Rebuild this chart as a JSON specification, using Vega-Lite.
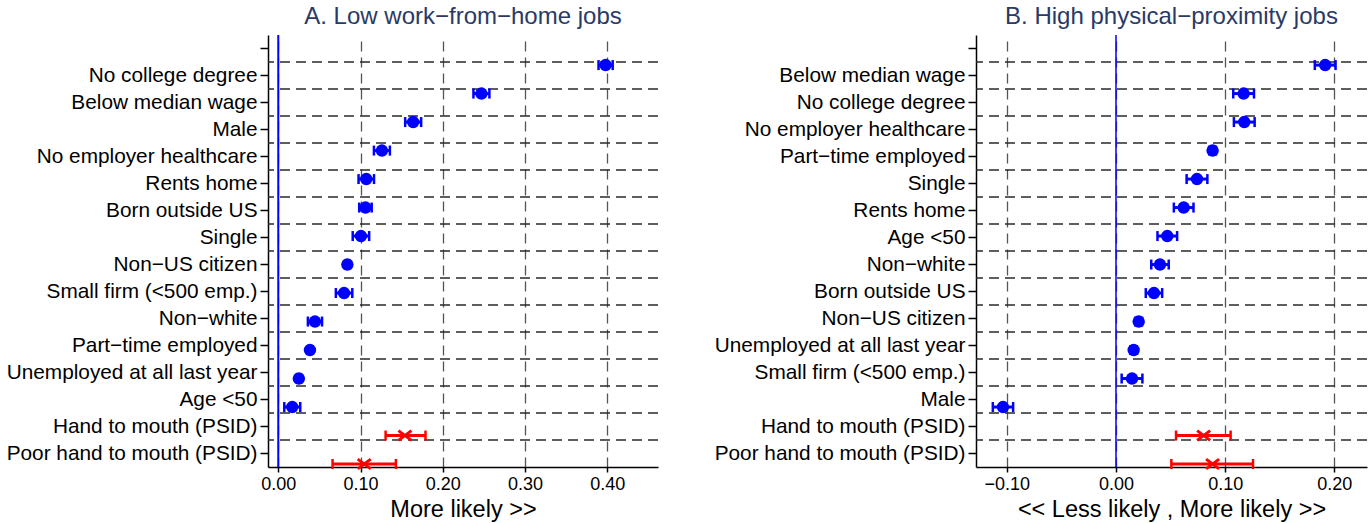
{
  "$schema": "https://vega.github.io/schema/vega-lite/v6.json",
  "padding": {"left": 6, "top": 5, "right": 5, "bottom": 5},
  "spacing": 55,
  "config": {
    "font": "Liberation Sans",
    "view": {"stroke": null},
    "axis": {"labelColor": "#000", "tickColor": "#000", "domainColor": "#000", "domainWidth": 1.5, "tickWidth": 1.5, "titleFontWeight": "normal", "titleColor": "#000", "labelFont": "Liberation Sans", "titleFont": "Liberation Sans"},
    "axisX": {"grid": true, "gridDash": [10, 6], "gridColor": "#555", "gridWidth": 1.3, "tickSize": 5, "labelFontSize": 18, "labelPadding": 3, "titleFontSize": 23.5, "titlePadding": 4, "format": ".2f", "labelFlush": false},
    "axisY": {"grid": false, "tickSize": 8, "labelFontSize": 20.8, "labelPadding": 3, "labelLimit": 400},
    "title": {"fontSize": 24, "fontWeight": "normal", "color": "#2a3a66", "anchor": "middle", "offset": 5, "font": "Liberation Sans"}
  },
  "datasets": {
    "A": [
      {"cat": "No college degree", "est": 0.398, "lo": 0.3894, "hi": 0.4066, "g": "b"},
      {"cat": "Below median wage", "est": 0.247, "lo": 0.2373, "hi": 0.2567, "g": "b"},
      {"cat": "Male", "est": 0.164, "lo": 0.1543, "hi": 0.1737, "g": "b"},
      {"cat": "No employer healthcare", "est": 0.126, "lo": 0.1163, "hi": 0.1357, "g": "b"},
      {"cat": "Rents home", "est": 0.107, "lo": 0.0976, "hi": 0.1164, "g": "b"},
      {"cat": "Born outside US", "est": 0.106, "lo": 0.0984, "hi": 0.1136, "g": "b"},
      {"cat": "Single", "est": 0.1005, "lo": 0.0905, "hi": 0.1105, "g": "b"},
      {"cat": "Non−US citizen", "est": 0.084, "lo": 0.081, "hi": 0.087, "g": "b"},
      {"cat": "Small firm (<500 emp.)", "est": 0.08, "lo": 0.07, "hi": 0.09, "g": "b"},
      {"cat": "Non−white", "est": 0.0446, "lo": 0.036, "hi": 0.0532, "g": "b"},
      {"cat": "Part−time employed", "est": 0.0385, "lo": 0.0355, "hi": 0.0415, "g": "b"},
      {"cat": "Unemployed at all last year", "est": 0.025, "lo": 0.022, "hi": 0.028, "g": "b"},
      {"cat": "Age <50", "est": 0.017, "lo": 0.0073, "hi": 0.0267, "g": "b"},
      {"cat": "Hand to mouth (PSID)", "est": 0.154, "lo": 0.1305, "hi": 0.179, "g": "r"},
      {"cat": "Poor hand to mouth (PSID)", "est": 0.1045, "lo": 0.066, "hi": 0.143, "g": "r"}
    ],
    "B": [
      {"cat": "Below median wage", "est": 0.1916, "lo": 0.1821, "hi": 0.2011, "g": "b"},
      {"cat": "No college degree", "est": 0.1169, "lo": 0.1074, "hi": 0.1264, "g": "b"},
      {"cat": "No employer healthcare", "est": 0.1175, "lo": 0.108, "hi": 0.127, "g": "b"},
      {"cat": "Part−time employed", "est": 0.0885, "lo": 0.0855, "hi": 0.0915, "g": "b"},
      {"cat": "Single", "est": 0.0742, "lo": 0.0647, "hi": 0.0837, "g": "b"},
      {"cat": "Rents home", "est": 0.062, "lo": 0.053, "hi": 0.071, "g": "b"},
      {"cat": "Age <50", "est": 0.047, "lo": 0.038, "hi": 0.056, "g": "b"},
      {"cat": "Non−white", "est": 0.0403, "lo": 0.0323, "hi": 0.0483, "g": "b"},
      {"cat": "Born outside US", "est": 0.0348, "lo": 0.0273, "hi": 0.0423, "g": "b"},
      {"cat": "Non−US citizen", "est": 0.0208, "lo": 0.0178, "hi": 0.0238, "g": "b"},
      {"cat": "Unemployed at all last year", "est": 0.0162, "lo": 0.0132, "hi": 0.0192, "g": "b"},
      {"cat": "Small firm (<500 emp.)", "est": 0.0147, "lo": 0.0052, "hi": 0.0242, "g": "b"},
      {"cat": "Male", "est": -0.1035, "lo": -0.1128, "hi": -0.0942, "g": "b"},
      {"cat": "Hand to mouth (PSID)", "est": 0.0803, "lo": 0.055, "hi": 0.105, "g": "r"},
      {"cat": "Poor hand to mouth (PSID)", "est": 0.0885, "lo": 0.0507, "hi": 0.1255, "g": "r"}
    ]
  },
  "hconcat": [
    {
      "width": 390,
      "height": 432,
      "title": "A. Low work−from−home jobs",
      "data": {"name": "A"},
      "resolve": {"scale": {"y": "independent"}},
      "layer": [
        {
          "mark": {"type": "rule", "strokeDash": [10, 6], "color": "#2a2a2a", "strokeWidth": 1.5},
          "encoding": {
            "y": {"field": "cat", "type": "nominal", "sort": null, "bandPosition": 0,
              "scale": {"type": "band", "paddingInner": 0, "paddingOuter": 0, "domain": [" ", "No college degree", "Below median wage", "Male", "No employer healthcare", "Rents home", "Born outside US", "Single", "Non−US citizen", "Small firm (<500 emp.)", "Non−white", "Part−time employed", "Unemployed at all last year", "Age <50", "Hand to mouth (PSID)", "Poor hand to mouth (PSID)"]},
              "axis": {"title": null, "bandPosition": 0.5}}
          }
        },
        {
          "data": {"values": [{}]},
          "mark": {"type": "rule", "color": "#0000ff", "strokeWidth": 2},
          "encoding": {
            "x": {"datum": 0, "type": "quantitative", "scale": {"domain": [-0.0125, 0.4617], "nice": false, "zero": false}, "axis": {"title": "More likely >>", "values": [0, 0.1, 0.2, 0.3, 0.4]}}
          }
        },
        {
          "mark": {"type": "rule", "strokeWidth": 3},
          "encoding": {
            "x": {"field": "lo", "type": "quantitative", "scale": {"domain": [-0.0125, 0.4617], "nice": false, "zero": false}, "axis": {"title": "More likely >>", "values": [0, 0.1, 0.2, 0.3, 0.4]}},
            "x2": {"field": "hi"},
            "y": {"field": "cat", "type": "nominal", "sort": null, "scale": {"type": "point", "padding": 0.58, "align": 0.91, "domain": ["No college degree", "Below median wage", "Male", "No employer healthcare", "Rents home", "Born outside US", "Single", "Non−US citizen", "Small firm (<500 emp.)", "Non−white", "Part−time employed", "Unemployed at all last year", "Age <50", "Hand to mouth (PSID)", "Poor hand to mouth (PSID)"]}, "axis": null},
            "color": {"field": "g", "type": "nominal", "scale": {"domain": ["b", "r"], "range": ["#0000ff", "#ff0000"]}, "legend": null}
          }
        },
        {
          "mark": {"type": "tick", "thickness": 2.5, "size": 10, "opacity": 1},
          "encoding": {
            "x": {"field": "lo", "type": "quantitative", "scale": {"domain": [-0.0125, 0.4617], "nice": false, "zero": false}, "axis": {"title": "More likely >>", "values": [0, 0.1, 0.2, 0.3, 0.4]}},
            "y": {"field": "cat", "type": "nominal", "sort": null, "scale": {"type": "point", "padding": 0.58, "align": 0.91, "domain": ["No college degree", "Below median wage", "Male", "No employer healthcare", "Rents home", "Born outside US", "Single", "Non−US citizen", "Small firm (<500 emp.)", "Non−white", "Part−time employed", "Unemployed at all last year", "Age <50", "Hand to mouth (PSID)", "Poor hand to mouth (PSID)"]}, "axis": null},
            "color": {"field": "g", "type": "nominal", "scale": {"domain": ["b", "r"], "range": ["#0000ff", "#ff0000"]}, "legend": null}
          }
        },
        {
          "mark": {"type": "tick", "thickness": 2.5, "size": 10, "opacity": 1},
          "encoding": {
            "x": {"field": "hi", "type": "quantitative", "scale": {"domain": [-0.0125, 0.4617], "nice": false, "zero": false}, "axis": {"title": "More likely >>", "values": [0, 0.1, 0.2, 0.3, 0.4]}},
            "y": {"field": "cat", "type": "nominal", "sort": null, "scale": {"type": "point", "padding": 0.58, "align": 0.91, "domain": ["No college degree", "Below median wage", "Male", "No employer healthcare", "Rents home", "Born outside US", "Single", "Non−US citizen", "Small firm (<500 emp.)", "Non−white", "Part−time employed", "Unemployed at all last year", "Age <50", "Hand to mouth (PSID)", "Poor hand to mouth (PSID)"]}, "axis": null},
            "color": {"field": "g", "type": "nominal", "scale": {"domain": ["b", "r"], "range": ["#0000ff", "#ff0000"]}, "legend": null}
          }
        },
        {
          "transform": [{"filter": "datum.g === 'b'"}],
          "mark": {"type": "point", "shape": "circle", "filled": true, "size": 155, "opacity": 1, "color": "#0000ff"},
          "encoding": {
            "x": {"field": "est", "type": "quantitative", "scale": {"domain": [-0.0125, 0.4617], "nice": false, "zero": false}, "axis": {"title": "More likely >>", "values": [0, 0.1, 0.2, 0.3, 0.4]}},
            "y": {"field": "cat", "type": "nominal", "sort": null, "scale": {"type": "point", "padding": 0.58, "align": 0.91, "domain": ["No college degree", "Below median wage", "Male", "No employer healthcare", "Rents home", "Born outside US", "Single", "Non−US citizen", "Small firm (<500 emp.)", "Non−white", "Part−time employed", "Unemployed at all last year", "Age <50", "Hand to mouth (PSID)", "Poor hand to mouth (PSID)"]}, "axis": null}
          }
        },
        {
          "transform": [{"filter": "datum.g === 'r'"}],
          "mark": {"type": "point", "shape": "M-1,-0.75L1,0.75M-1,0.75L1,-0.75", "filled": false, "size": 170, "strokeWidth": 3, "opacity": 1, "color": "#ff0000"},
          "encoding": {
            "x": {"field": "est", "type": "quantitative", "scale": {"domain": [-0.0125, 0.4617], "nice": false, "zero": false}, "axis": {"title": "More likely >>", "values": [0, 0.1, 0.2, 0.3, 0.4]}},
            "y": {"field": "cat", "type": "nominal", "sort": null, "scale": {"type": "point", "padding": 0.58, "align": 0.91, "domain": ["No college degree", "Below median wage", "Male", "No employer healthcare", "Rents home", "Born outside US", "Single", "Non−US citizen", "Small firm (<500 emp.)", "Non−white", "Part−time employed", "Unemployed at all last year", "Age <50", "Hand to mouth (PSID)", "Poor hand to mouth (PSID)"]}, "axis": null}
          }
        }
      ]
    },
    {
      "width": 391,
      "height": 432,
      "title": "B. High physical−proximity jobs",
      "data": {"name": "B"},
      "resolve": {"scale": {"y": "independent"}},
      "layer": [
        {
          "mark": {"type": "rule", "strokeDash": [10, 6], "color": "#2a2a2a", "strokeWidth": 1.5},
          "encoding": {
            "y": {"field": "cat", "type": "nominal", "sort": null, "bandPosition": 0,
              "scale": {"type": "band", "paddingInner": 0, "paddingOuter": 0, "domain": [" ", "Below median wage", "No college degree", "No employer healthcare", "Part−time employed", "Single", "Rents home", "Age <50", "Non−white", "Born outside US", "Non−US citizen", "Unemployed at all last year", "Small firm (<500 emp.)", "Male", "Hand to mouth (PSID)", "Poor hand to mouth (PSID)"]},
              "axis": {"title": null, "bandPosition": 0.5}}
          }
        },
        {
          "data": {"values": [{}]},
          "mark": {"type": "rule", "color": "#0000ff", "strokeWidth": 1.5},
          "encoding": {
            "x": {"datum": 0, "type": "quantitative", "scale": {"domain": [-0.1282, 0.2299], "nice": false, "zero": false}, "axis": {"title": "<< Less likely , More likely >>", "values": [-0.1, 0, 0.1, 0.2]}}
          }
        },
        {
          "mark": {"type": "rule", "strokeWidth": 3},
          "encoding": {
            "x": {"field": "lo", "type": "quantitative", "scale": {"domain": [-0.1282, 0.2299], "nice": false, "zero": false}, "axis": {"title": "<< Less likely , More likely >>", "values": [-0.1, 0, 0.1, 0.2]}},
            "x2": {"field": "hi"},
            "y": {"field": "cat", "type": "nominal", "sort": null, "scale": {"type": "point", "padding": 0.58, "align": 0.91, "domain": ["Below median wage", "No college degree", "No employer healthcare", "Part−time employed", "Single", "Rents home", "Age <50", "Non−white", "Born outside US", "Non−US citizen", "Unemployed at all last year", "Small firm (<500 emp.)", "Male", "Hand to mouth (PSID)", "Poor hand to mouth (PSID)"]}, "axis": null},
            "color": {"field": "g", "type": "nominal", "scale": {"domain": ["b", "r"], "range": ["#0000ff", "#ff0000"]}, "legend": null}
          }
        },
        {
          "mark": {"type": "tick", "thickness": 2.5, "size": 10, "opacity": 1},
          "encoding": {
            "x": {"field": "lo", "type": "quantitative", "scale": {"domain": [-0.1282, 0.2299], "nice": false, "zero": false}, "axis": {"title": "<< Less likely , More likely >>", "values": [-0.1, 0, 0.1, 0.2]}},
            "y": {"field": "cat", "type": "nominal", "sort": null, "scale": {"type": "point", "padding": 0.58, "align": 0.91, "domain": ["Below median wage", "No college degree", "No employer healthcare", "Part−time employed", "Single", "Rents home", "Age <50", "Non−white", "Born outside US", "Non−US citizen", "Unemployed at all last year", "Small firm (<500 emp.)", "Male", "Hand to mouth (PSID)", "Poor hand to mouth (PSID)"]}, "axis": null},
            "color": {"field": "g", "type": "nominal", "scale": {"domain": ["b", "r"], "range": ["#0000ff", "#ff0000"]}, "legend": null}
          }
        },
        {
          "mark": {"type": "tick", "thickness": 2.5, "size": 10, "opacity": 1},
          "encoding": {
            "x": {"field": "hi", "type": "quantitative", "scale": {"domain": [-0.1282, 0.2299], "nice": false, "zero": false}, "axis": {"title": "<< Less likely , More likely >>", "values": [-0.1, 0, 0.1, 0.2]}},
            "y": {"field": "cat", "type": "nominal", "sort": null, "scale": {"type": "point", "padding": 0.58, "align": 0.91, "domain": ["Below median wage", "No college degree", "No employer healthcare", "Part−time employed", "Single", "Rents home", "Age <50", "Non−white", "Born outside US", "Non−US citizen", "Unemployed at all last year", "Small firm (<500 emp.)", "Male", "Hand to mouth (PSID)", "Poor hand to mouth (PSID)"]}, "axis": null},
            "color": {"field": "g", "type": "nominal", "scale": {"domain": ["b", "r"], "range": ["#0000ff", "#ff0000"]}, "legend": null}
          }
        },
        {
          "transform": [{"filter": "datum.g === 'b'"}],
          "mark": {"type": "point", "shape": "circle", "filled": true, "size": 155, "opacity": 1, "color": "#0000ff"},
          "encoding": {
            "x": {"field": "est", "type": "quantitative", "scale": {"domain": [-0.1282, 0.2299], "nice": false, "zero": false}, "axis": {"title": "<< Less likely , More likely >>", "values": [-0.1, 0, 0.1, 0.2]}},
            "y": {"field": "cat", "type": "nominal", "sort": null, "scale": {"type": "point", "padding": 0.58, "align": 0.91, "domain": ["Below median wage", "No college degree", "No employer healthcare", "Part−time employed", "Single", "Rents home", "Age <50", "Non−white", "Born outside US", "Non−US citizen", "Unemployed at all last year", "Small firm (<500 emp.)", "Male", "Hand to mouth (PSID)", "Poor hand to mouth (PSID)"]}, "axis": null}
          }
        },
        {
          "transform": [{"filter": "datum.g === 'r'"}],
          "mark": {"type": "point", "shape": "M-1,-0.75L1,0.75M-1,0.75L1,-0.75", "filled": false, "size": 170, "strokeWidth": 3, "opacity": 1, "color": "#ff0000"},
          "encoding": {
            "x": {"field": "est", "type": "quantitative", "scale": {"domain": [-0.1282, 0.2299], "nice": false, "zero": false}, "axis": {"title": "<< Less likely , More likely >>", "values": [-0.1, 0, 0.1, 0.2]}},
            "y": {"field": "cat", "type": "nominal", "sort": null, "scale": {"type": "point", "padding": 0.58, "align": 0.91, "domain": ["Below median wage", "No college degree", "No employer healthcare", "Part−time employed", "Single", "Rents home", "Age <50", "Non−white", "Born outside US", "Non−US citizen", "Unemployed at all last year", "Small firm (<500 emp.)", "Male", "Hand to mouth (PSID)", "Poor hand to mouth (PSID)"]}, "axis": null}
          }
        }
      ]
    }
  ]
}
